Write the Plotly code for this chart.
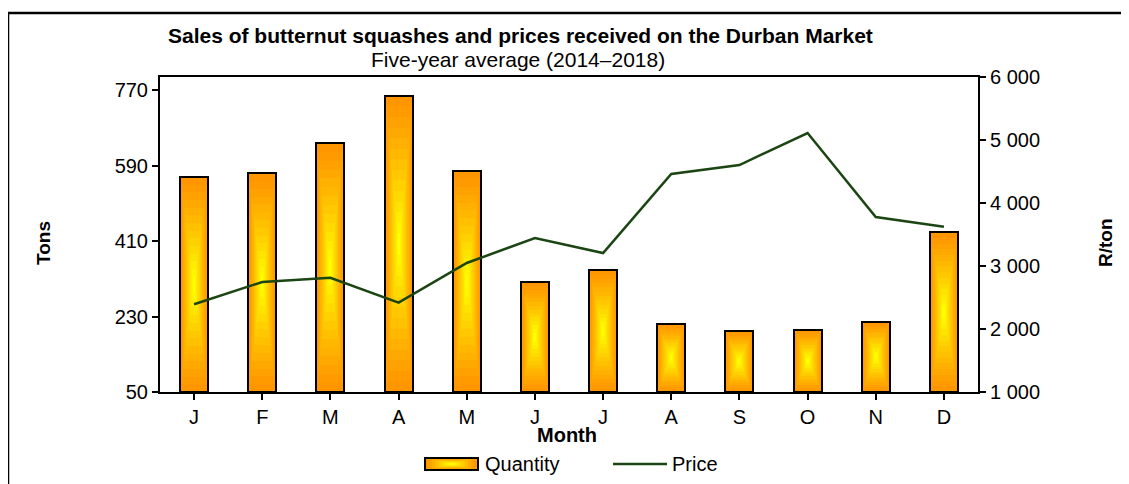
import plotly.graph_objects as go

months = ["J", "F", "M", "A", "M", "J", "J", "A", "S", "O", "N", "D"]
quantity_tons = [563, 572, 644, 756, 577, 312, 341, 212, 195, 198, 217, 431]
price_r_per_ton = [2392, 2746, 2814, 2418, 3048, 3444, 3206, 4460, 4603, 5111, 3778, 3624]
left_ticks = [50, 230, 410, 590, 770]

x_idx = list(range(len(months)))
BASE = 50
BAR_W = 0.41
N_LAYERS = 14
ORANGE = (255, 150, 0)
YELLOW = (255, 255, 0)


def layer_color(k, n):
    t = (k / (n - 1)) ** 1.2
    return "rgb(%d,%d,%d)" % tuple(int(round(ORANGE[i] + (YELLOW[i] - ORANGE[i]) * t)) for i in range(3))


fig = go.Figure()

# gradient bars: concentric layers from orange edge to yellow centre
for k in range(N_LAYERS):
    f = k / N_LAYERS
    heights = [(v - BASE) * (1 - f) for v in quantity_tons]
    bases = [BASE + (v - BASE) * f / 2 for v in quantity_tons]
    fig.add_trace(go.Bar(
        x=x_idx, y=heights, base=bases, width=BAR_W * (1 - f),
        marker=dict(color=layer_color(k, N_LAYERS), line=dict(width=0)),
        name="Quantity", showlegend=False, yaxis="y",
    ))

# outline on top
fig.add_trace(go.Bar(
    x=x_idx, y=[v - BASE for v in quantity_tons], base=[BASE] * len(quantity_tons),
    width=BAR_W, marker=dict(color="rgba(0,0,0,0)", line=dict(color="black", width=2)),
    name="Quantity", showlegend=False,
))

fig.add_trace(go.Scatter(
    x=x_idx, y=price_r_per_ton, mode="lines", name="Price",
    line=dict(color="#1b4513", width=2.5), yaxis="y2", showlegend=False,
))

# page geometry (the page body adds an 8px offset)
OFF = 8
PL, PR, PT, PB = 160, 978, 77, 392  # plot area in page pixels
L = PL - OFF
T = PT - OFF
R = 1129 + OFF - PR
B = 484 + OFF - PB
W_PLOT = PR - PL
H_PLOT = PB - PT


def px(xp):
    return (xp - PL) / W_PLOT


def py(yp):
    return (PB - yp) / H_PLOT


FONT = "Liberation Sans, Arial, sans-serif"
TICKF = dict(size=20, color="black")

shapes = [
    dict(type="rect", xref="paper", yref="paper",
         x0=px(8), y0=py(13), x1=px(1180), y1=py(540),
         line=dict(color="black", width=2.5), fillcolor="rgba(0,0,0,0)", layer="below"),
]
# legend swatch for Quantity (gradient rectangle)
sx0, sx1, sy0, sy1 = 425, 478, 458, 470
NL = 8
for k in range(NL):
    f = k / NL
    hw = (sx1 - sx0) / 2 * (1 - f)
    hh = (sy1 - sy0) / 2 * (1 - f)
    cx, cy = (sx0 + sx1) / 2, (sy0 + sy1) / 2
    shapes.append(dict(type="rect", xref="paper", yref="paper",
                       x0=px(cx - hw), x1=px(cx + hw), y0=py(cy + hh), y1=py(cy - hh),
                       line=dict(width=0), fillcolor=layer_color(k, NL)))
shapes.append(dict(type="rect", xref="paper", yref="paper",
                   x0=px(sx0), x1=px(sx1), y0=py(sy1), y1=py(sy0),
                   line=dict(color="black", width=2), fillcolor="rgba(0,0,0,0)"))
# legend line for Price
shapes.append(dict(type="line", xref="paper", yref="paper",
                   x0=px(613), x1=px(667), y0=py(464), y1=py(464),
                   line=dict(color="#1b4513", width=2.5)))

fig.update_layout(
    width=1129, height=484,
    margin=dict(l=L, r=R, t=T, b=B),
    paper_bgcolor="white", plot_bgcolor="white",
    barmode="overlay", bargap=0,
    separators=". ",
    font=dict(family=FONT, size=20, color="black"),
    showlegend=False,
    xaxis=dict(
        range=[-0.5, 11.5], tickmode="array", tickvals=x_idx, ticktext=months,
        showline=True, linecolor="black", linewidth=2, mirror=True,
        ticks="outside", ticklen=6, tickwidth=2, tickcolor="black",
        showgrid=False, zeroline=False, tickfont=TICKF,
    ),
    yaxis=dict(
        range=[50, 801], tickvals=left_ticks,
        showline=True, linecolor="black", linewidth=2,
        ticks="outside", ticklen=6, tickwidth=2, tickcolor="black",
        showgrid=False, zeroline=False, tickfont=TICKF,
    ),
    yaxis2=dict(
        range=[1000, 6000], dtick=1000, tick0=1000, tickformat=",",
        overlaying="y", side="right",
        showline=True, linecolor="black", linewidth=2,
        ticks="outside", ticklen=6, tickwidth=2, tickcolor="black",
        showgrid=False, zeroline=False, tickfont=TICKF,
    ),
    annotations=[
        dict(text="<b>Sales of butternut squashes and prices received on the Durban Market</b>",
             x=px(520), y=py(35), xref="paper", yref="paper", showarrow=False,
             font=dict(size=21), xanchor="center", yanchor="middle"),
        dict(text="Five-year average (2014–2018)",
             x=px(518), y=py(60), xref="paper", yref="paper", showarrow=False,
             font=dict(size=21), xanchor="center", yanchor="middle"),
        dict(text="<b>Tons</b>", x=px(43), y=py(243), xref="paper", yref="paper",
             showarrow=False, textangle=-90, font=dict(size=19),
             xanchor="center", yanchor="middle"),
        dict(text="<b>R/ton</b>", x=px(1105), y=py(243), xref="paper", yref="paper",
             showarrow=False, textangle=-90, font=dict(size=19),
             xanchor="center", yanchor="middle"),
        dict(text="<b>Month</b>", x=px(567), y=py(435), xref="paper", yref="paper",
             showarrow=False, font=dict(size=20),
             xanchor="center", yanchor="middle"),
        dict(text="Quantity", x=px(483), y=py(464), xref="paper", yref="paper",
             showarrow=False, font=dict(size=20), xanchor="left", yanchor="middle"),
        dict(text="Price", x=px(670), y=py(464), xref="paper", yref="paper",
             showarrow=False, font=dict(size=20), xanchor="left", yanchor="middle"),
    ],
    shapes=shapes,
)

fig.write_html("out.html")
